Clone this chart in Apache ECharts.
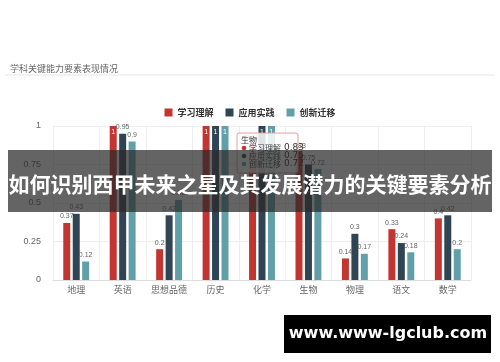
<!DOCTYPE html>
<html>
<head>
<meta charset="utf-8">
<script src="https://cdn.jsdelivr.net/npm/echarts@6/dist/echarts.min.js"></script>
<style>
html,body{margin:0;padding:0;background:#fff;}
#c{width:500px;height:362px;}
</style>
</head>
<body>
<div id="c"></div>
<script>
var categories = ['地理', '英语', '思想品德', '历史', '化学', '生物', '物理', '语文', '数学'];
var seriesNames = ['学习理解', '应用实践', '创新迁移'];
var learnValues = [0.37, 1, 0.2, 1, 0.88, 0.83, 0.14, 0.33, 0.4];
var applyValues = [0.43, 0.95, 0.42, 1, 1, 0.75, 0.3, 0.24, 0.42];
var innovValues = [0.12, 0.9, 0.52, 1, 1, 0.72, 0.17, 0.18, 0.2];
var yTicks = [0, 0.25, 0.5, 0.75, 1];
var chartTitle = '学科关键能力要素表现情况';
var bannerText = '如何识别西甲未来之星及其发展潜力的关键要素分析';
var watermarkText = 'www.www-lgclub.com';
var tooltipIndex = 5;

var colors = ['#c23531', '#2f4554', '#61a0a8'];

function toData(arr) {
  return arr.map(function (v) {
    if (v >= 1) {
      return { value: v, label: { position: 'insideTop', color: '#fff' } };
    }
    return v;
  });
}

var valueSets = [learnValues, applyValues, innovValues];
var series = seriesNames.map(function (n, i) {
  return {
    name: n,
    type: 'bar',
    barWidth: 7,
    barGap: '35%',
    data: toData(valueSets[i]),
    itemStyle: { color: colors[i] },
    label: { show: true, position: 'top', fontSize: 7, color: '#666', distance: 3 }
  };
});

// static tooltip panel (drawn under the banner)
var tipX = 237, tipY = 133, TZ = 60;
var tipChildren = [
  { type: 'rect', z: TZ, shape: { x: 0, y: 0, width: 61, height: 40, r: 2 },
    style: { fill: 'rgba(255,255,255,0.85)', stroke: '#e3a0a0', lineWidth: 1 } },
  { type: 'text', z: TZ + 1, x: 4, y: 3, style: { text: categories[tooltipIndex], fill: '#333', font: '8px "Noto Sans CJK SC"' } }
];
seriesNames.forEach(function (n, i) {
  var yy = 15 + i * 8;
  tipChildren.push({ type: 'circle', z: TZ + 1, shape: { cx: 7, cy: yy, r: 2.3 }, style: { fill: colors[i] } });
  tipChildren.push({ type: 'text', z: TZ + 1, x: 12, y: yy, style: { text: n, fill: '#444', font: '8px "Noto Sans CJK SC"', verticalAlign: 'middle' } });
  tipChildren.push({ type: 'text', z: TZ + 1, x: 47, y: yy, style: { text: String(valueSets[i][tooltipIndex]), fill: '#333', font: '9px "DejaVu Sans"', verticalAlign: 'middle' } });
});

var chart = echarts.init(document.getElementById('c'), null, { renderer: 'canvas' });
chart.setOption({
  animation: false,
  title: {
    text: chartTitle,
    left: 5, top: 59,
    textStyle: { fontSize: 9, fontWeight: 'normal', color: '#666', fontFamily: 'Noto Sans CJK SC' }
  },
  legend: {
    data: seriesNames,
    top: 103,
    left: 'center',
    icon: 'rect',
    itemWidth: 8, itemHeight: 8, itemGap: 12,
    textStyle: { fontSize: 9, color: '#333', fontWeight: 'bold', fontFamily: 'Noto Sans CJK SC' }
  },
  grid: { left: 53, right: 29, top: 126, bottom: 82 },
  xAxis: {
    type: 'category',
    data: categories,
    axisLine: { lineStyle: { color: '#ddd' } },
    axisTick: { lineStyle: { color: '#ddd' } },
    splitLine: { show: true, lineStyle: { color: '#eee' } },
    axisLabel: { interval: 0, fontSize: 9, color: '#666', margin: 5, fontFamily: 'Noto Sans CJK SC' }
  },
  yAxis: {
    type: 'value',
    min: 0, max: 1, interval: 0.25,
    axisLine: { show: false },
    axisTick: { show: false },
    splitLine: { lineStyle: { color: '#eee' } },
    axisLabel: {
      fontSize: 9, color: '#666', margin: 12,
      formatter: function (v) { return yTicks.indexOf(v) >= 0 ? String(v) : ''; }
    }
  },
  series: series,
  graphic: [
    { type: 'line', shape: { x1: 5, y1: 75, x2: 495, y2: 75 }, style: { stroke: '#e6e6e6', lineWidth: 1 }, z: 10 },
    { type: 'group', x: tipX, y: tipY, z: TZ, children: tipChildren },
    { type: 'rect', shape: { x: 8, y: 150, width: 484, height: 62 }, style: { fill: 'rgba(40,40,40,0.72)' }, z: 100 },
    { type: 'text', x: 250, y: 184, z: 101,
      style: { text: bannerText, fill: '#fff', font: 'bold 21px "Noto Sans CJK SC"', align: 'center', verticalAlign: 'middle' } },
    { type: 'rect', shape: { x: 284, y: 315, width: 207, height: 38 }, style: { fill: '#000' }, z: 100 },
    { type: 'text', x: 388, y: 334, z: 101,
      style: { text: watermarkText, fill: '#fff', font: 'bold 16px "DejaVu Sans"', align: 'center', verticalAlign: 'middle' } }
  ]
});
</script>
</body>
</html>
